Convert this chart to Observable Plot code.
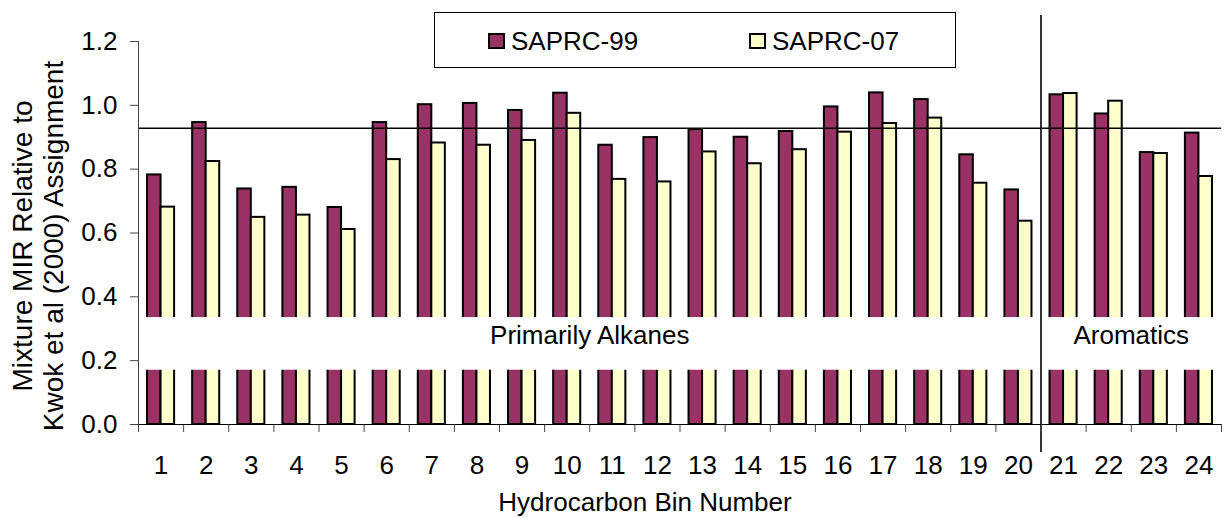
<!DOCTYPE html>
<html>
<head>
<meta charset="utf-8">
<script src="https://cdn.jsdelivr.net/npm/d3@7"></script>
<script src="https://cdn.jsdelivr.net/npm/@observablehq/plot@0.6"></script>
<style>
  html, body { margin: 0; padding: 0; background: #fff; }
  #wrap { position: relative; width: 1225px; height: 518px; font-family: "Liberation Sans", Arial, sans-serif; }
  #legend { position: absolute; left: 434px; top: 12px; width: 522px; height: 56px; border: 1.5px solid #000; box-sizing: border-box; background: #fff; }
  .item { position: absolute; top: 0; height: 56px; display: flex; align-items: center; font-size: 26px; color: #000; }
  .sw { width: 17px; height: 16px; border: 2px solid #000; margin-right: 6px; box-sizing: border-box; }
</style>
</head>
<body>
<div id="wrap">
  <div id="chart"></div>
  <div id="legend"></div>
</div>
<script>
// ---- Data ----
const bins = [1,2,3,4,5,6,7,8,9,10,11,12,13,14,15,16,17,18,19,20,21,22,23,24];
const seriesNames = ["SAPRC-99", "SAPRC-07"];
const saprc99 = [0.782, 0.946, 0.738, 0.743, 0.680, 0.946, 1.002, 1.006, 0.984, 1.038, 0.875, 0.899,
                 0.924, 0.900, 0.918, 0.995, 1.039, 1.018, 0.845, 0.735, 1.033, 0.973, 0.852, 0.913];
const saprc07 = [0.681, 0.824, 0.649, 0.656, 0.611, 0.830, 0.882, 0.875, 0.890, 0.975, 0.768, 0.760,
                 0.854, 0.817, 0.861, 0.916, 0.943, 0.960, 0.756, 0.637, 1.037, 1.013, 0.849, 0.777];
const yTicks = [0, 0.2, 0.4, 0.6, 0.8, 1.0, 1.2];
const referenceValue = 0.928;
const groupNames = ["Primarily Alkanes", "Aromatics"];
const groupFirstBin = [1, 21];
const groupLastBin = [20, 24];
const xTitle = "Hydrocarbon Bin Number";
const yTitle = "Mixture MIR Relative to\nKwok et al (2000) Assignment";
const colors = ["#993366", "#FFFFCC"];

// ---- Build tables ----
const barHalf = 0.3;
const rows = [];
bins.forEach((b, i) => {
  rows.push({bin: b, series: seriesNames[0], value: saprc99[i], x1: b - barHalf, x2: b});
  rows.push({bin: b, series: seriesNames[1], value: saprc07[i], x1: b, x2: b + barHalf});
});
const groups = groupNames.map((g, i) => ({label: g, first: groupFirstBin[i], last: groupLastBin[i]}));
const boundaries = [bins[0] - 0.5, ...bins.map(b => b + 0.5)];
const divider = groupLastBin[0] + 0.5;
const band = [0.17, 0.335];

const chart = Plot.plot({
  width: 1225,
  height: 518,
  marginLeft: 138,
  marginRight: 4,
  marginTop: 41,
  marginBottom: 94,
  style: {fontFamily: "'Liberation Sans', Arial, sans-serif", fontSize: "26px", background: "#fff", color: "#000", overflow: "visible"},
  x: {domain: [boundaries[0], boundaries[boundaries.length - 1]]},
  y: {domain: [0, 1.2]},
  color: {domain: seriesNames, range: colors},
  marks: [
    Plot.rect(rows, {x1: "x1", x2: "x2", y1: () => 0, y2: "value", fill: "series", stroke: "#000", strokeWidth: 2}),
    Plot.rect([band], {x1: () => boundaries[0], x2: () => boundaries[boundaries.length - 1], y1: d => d[0], y2: d => d[1], fill: "#fff", insetLeft: 1}),
    Plot.text(groups, {x: d => (d.first + d.last) / 2, y: () => 0.279, text: "label", fontSize: 26, lineAnchor: "middle"}),
    Plot.ruleY([referenceValue], {stroke: "#000", strokeWidth: 1.5}),
    Plot.ruleX([divider], {stroke: "#000", strokeWidth: 1.6, insetTop: -26, insetBottom: -28}),
    Plot.axisY({ticks: yTicks, tickFormat: ".1f", tickSize: 8, tickPadding: 13, label: null, fontSize: 26, stroke: "#444"}),
    Plot.axisX({ticks: bins, tickSize: 0, tickPadding: 31, label: null, fontSize: 26}),
    Plot.axisX({ticks: boundaries, tickSize: 8, tickFormat: () => "", label: null, stroke: "#444"}),
    Plot.ruleX([boundaries[0]], {stroke: "#444", strokeWidth: 1}),
    Plot.ruleY([0], {stroke: "#000", strokeWidth: 1.2}),
    Plot.text([xTitle], {frameAnchor: "bottom", dx: -35, dy: 86, fontSize: 26, lineAnchor: "bottom"}),
    Plot.text([yTitle], {frameAnchor: "left", rotate: -90, dx: -101, dy: 13, fontSize: 28, lineHeight: 1.12, lineAnchor: "middle", textAnchor: "middle"})
  ]
});
document.getElementById("chart").appendChild(chart);

// ---- Legend ----
const legend = document.getElementById("legend");
const legendLeft = [53, 314];
seriesNames.forEach((name, i) => {
  const item = document.createElement("div");
  item.className = "item";
  item.style.left = legendLeft[i] + "px";
  const sw = document.createElement("div");
  sw.className = "sw";
  sw.style.background = colors[i];
  item.appendChild(sw);
  const t = document.createElement("span");
  t.textContent = name;
  item.appendChild(t);
  legend.appendChild(item);
});
</script>
</body>
</html>
